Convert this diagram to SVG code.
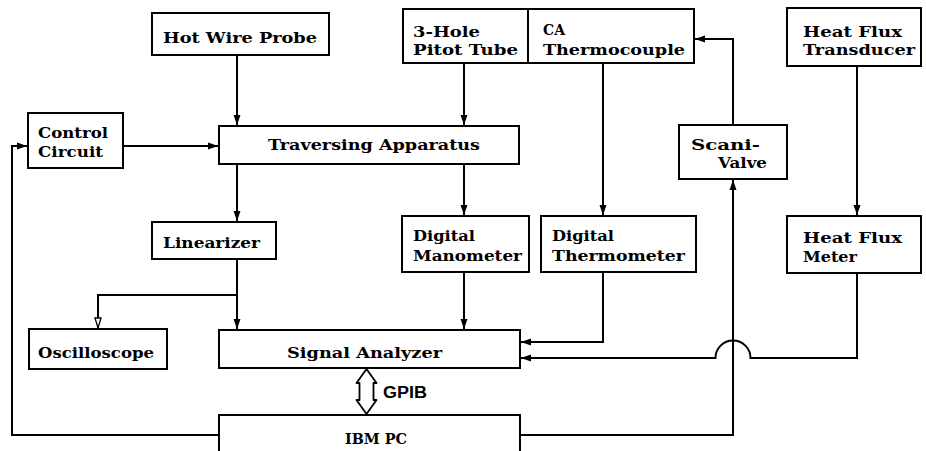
<svg xmlns="http://www.w3.org/2000/svg" width="926" height="451" viewBox="0 0 926 451">
<defs>
<style>
.box{fill:#fff;stroke:#000;stroke-width:2}
.ln{fill:none;stroke:#000;stroke-width:2}
.t{font-family:"DejaVu Serif","Liberation Serif",serif;font-weight:bold;font-size:15px;fill:#000}
.s{font-family:"Liberation Sans","DejaVu Sans",sans-serif;font-weight:bold;font-size:16px;fill:#000}
</style>
<marker id="a" viewBox="0 0 10 8" refX="10" refY="4" markerWidth="10" markerHeight="8" markerUnits="userSpaceOnUse" orient="auto">
<path d="M0,0.5 L10,4 L0,7.5 Z" fill="#000"/>
</marker>
<marker id="h" viewBox="0 0 12 8" refX="11" refY="4" markerWidth="12" markerHeight="8" markerUnits="userSpaceOnUse" orient="auto">
<path d="M1,1 L11,4 L1,7 Z" fill="#fff" stroke="#000" stroke-width="1.3"/>
</marker>
</defs>
<rect width="926" height="451" fill="#fff"/>
<g id="connectors">
<path class="ln" d="M237,55 V125" marker-end="url(#a)"/>
<path class="ln" d="M464,63 V125" marker-end="url(#a)"/>
<path class="ln" d="M123,146 H218" marker-end="url(#a)"/>
<path class="ln" d="M219,435 H12 V146 H27" marker-end="url(#a)"/>
<path class="ln" d="M237,164 V221" marker-end="url(#a)"/>
<path class="ln" d="M464,164 V215" marker-end="url(#a)"/>
<path class="ln" d="M603,63 V215" marker-end="url(#a)"/>
<path class="ln" d="M857,66 V215" marker-end="url(#a)"/>
<path class="ln" d="M237,259 V329" marker-end="url(#a)"/>
<path class="ln" d="M237,295 H98 V328" marker-end="url(#h)"/>
<path class="ln" d="M464,272 V329" marker-end="url(#a)"/>
<path class="ln" d="M603,272 V342 H521" marker-end="url(#a)"/>
<path class="ln" d="M857,273 V358 H750.5 A17.5,17.5 0 0 0 715.5,358 H521" marker-end="url(#a)"/>
<path class="ln" d="M520,435 H733 V180" marker-end="url(#a)"/>
<path class="ln" d="M733,125 V39 H695" marker-end="url(#a)"/>
<path d="M366.5,369 L376.5,383 H373.5 V400 H376.5 L366.5,414 L356.5,400 H359.5 V383 H356.5 Z" fill="#fff" stroke="#000" stroke-width="1.8" stroke-linejoin="round"/>
</g>
<g id="hot-wire-probe"><rect class="box" x="152" y="13" width="177" height="42"/><text class="t" x="163" y="43" textLength="154" lengthAdjust="spacingAndGlyphs">Hot Wire Probe</text></g>
<g id="pitot-tube"><rect class="box" x="403" y="9" width="125" height="54"/><text class="t" x="413" y="37" textLength="67" lengthAdjust="spacingAndGlyphs">3-Hole</text><text class="t" x="413" y="55" textLength="105" lengthAdjust="spacingAndGlyphs">Pitot Tube</text></g>
<g id="ca-thermocouple"><rect class="box" x="528" y="9" width="166" height="54"/><text class="t" x="543" y="35" textLength="22" lengthAdjust="spacingAndGlyphs">CA</text><text class="t" x="543" y="55" textLength="142" lengthAdjust="spacingAndGlyphs">Thermocouple</text></g>
<g id="heat-flux-transducer"><rect class="box" x="787" y="8" width="134" height="58"/><text class="t" x="803" y="37" textLength="99" lengthAdjust="spacingAndGlyphs">Heat Flux</text><text class="t" x="803" y="55" textLength="112" lengthAdjust="spacingAndGlyphs">Transducer</text></g>
<g id="control-circuit"><rect class="box" x="28" y="113" width="95" height="55"/><text class="t" x="38" y="138" textLength="70" lengthAdjust="spacingAndGlyphs">Control</text><text class="t" x="38" y="157" textLength="65" lengthAdjust="spacingAndGlyphs">Circuit</text></g>
<g id="traversing-apparatus"><rect class="box" x="219" y="126" width="300" height="38"/><text class="t" x="268" y="150" textLength="212" lengthAdjust="spacingAndGlyphs">Traversing Apparatus</text></g>
<g id="scani-valve"><rect class="box" x="679" y="125" width="108" height="54"/><text class="t" x="691" y="150" textLength="69" lengthAdjust="spacingAndGlyphs">Scani-</text><text class="t" x="718" y="168" textLength="49" lengthAdjust="spacingAndGlyphs">Valve</text></g>
<g id="linearizer"><rect class="box" x="152" y="222" width="124" height="37"/><text class="t" x="163" y="248" textLength="97" lengthAdjust="spacingAndGlyphs">Linearizer</text></g>
<g id="digital-manometer"><rect class="box" x="402" y="216" width="127" height="56"/><text class="t" x="413" y="241" textLength="62" lengthAdjust="spacingAndGlyphs">Digital</text><text class="t" x="413" y="261" textLength="109" lengthAdjust="spacingAndGlyphs">Manometer</text></g>
<g id="digital-thermometer"><rect class="box" x="541" y="216" width="155" height="56"/><text class="t" x="552" y="241" textLength="62" lengthAdjust="spacingAndGlyphs">Digital</text><text class="t" x="552" y="261" textLength="133" lengthAdjust="spacingAndGlyphs">Thermometer</text></g>
<g id="heat-flux-meter"><rect class="box" x="787" y="216" width="134" height="57"/><text class="t" x="803" y="243" textLength="99" lengthAdjust="spacingAndGlyphs">Heat Flux</text><text class="t" x="803" y="262" textLength="54" lengthAdjust="spacingAndGlyphs">Meter</text></g>
<g id="oscilloscope"><rect class="box" x="29" y="329" width="138" height="40"/><text class="t" x="38" y="358" textLength="116" lengthAdjust="spacingAndGlyphs">Oscilloscope</text></g>
<g id="signal-analyzer"><rect class="box" x="219" y="330" width="301" height="38"/><text class="t" x="287" y="358" textLength="155" lengthAdjust="spacingAndGlyphs">Signal Analyzer</text></g>
<g id="gpib"><text class="s" x="383" y="398" textLength="44" lengthAdjust="spacingAndGlyphs">GPIB</text></g>
<g id="ibm-pc"><rect class="box" x="219" y="415" width="301" height="50"/><text class="t" x="345" y="444" textLength="62" lengthAdjust="spacingAndGlyphs">IBM PC</text></g>
</svg>
